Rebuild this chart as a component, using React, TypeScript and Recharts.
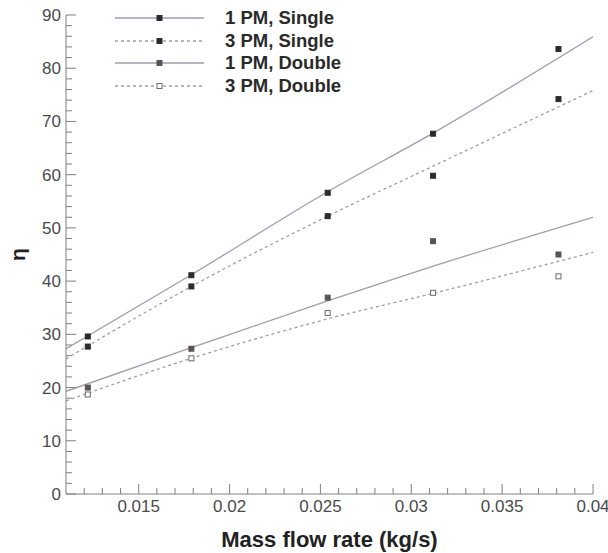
import { ComposedChart, Line, Scatter, XAxis, YAxis, Legend } from "recharts";

// measured points
const flowRates = [0.0122, 0.0179, 0.0254, 0.0312, 0.0381];
const single1pm = [29.6, 41.1, 56.6, 67.7, 83.6];
const single3pm = [27.7, 39.0, 52.2, 59.8, 74.2];
const double1pm = [20.0, 27.3, 36.9, 47.5, 45.0];
const double3pm = [18.7, 25.5, 34.0, 37.8, 40.9];

// fitted curves
const fitRates = [0.011, 0.0179, 0.0254, 0.0312, 0.04];
const fitSingle1pm = [27.3, 41.2, 56.8, 67.8, 85.9];
const fitSingle3pm = [25.4, 39.0, 52.2, 61.6, 75.8];
const fitDouble1pm = [19.3, 27.5, 36.3, 42.8, 52.0];
const fitDouble3pm = [17.5, 25.5, 32.9, 37.7, 45.4];

const xTicks = [0.015, 0.02, 0.025, 0.03, 0.035, 0.04];
const xMinorTicks = [
  0.012, 0.013, 0.014, 0.016, 0.017, 0.018, 0.019, 0.021, 0.022, 0.023, 0.024,
  0.026, 0.027, 0.028, 0.029, 0.031, 0.032, 0.033, 0.034, 0.036, 0.037, 0.038, 0.039,
];
const yTicks = [0, 10, 20, 30, 40, 50, 60, 70, 80, 90];
const yMinorTicks = [
  2, 4, 6, 8, 12, 14, 16, 18, 22, 24, 26, 28, 32, 34, 36, 38, 42, 44, 46, 48,
  52, 54, 56, 58, 62, 64, 66, 68, 72, 74, 76, 78, 82, 84, 86, 88,
];

const seriesNames = ["1 PM, Single", "3 PM, Single", "1 PM, Double", "3 PM, Double"];

const pts = (xs: number[], ys: number[]) => xs.map((x, i) => ({ x, y: ys[i] }));

const FONT = "'Liberation Sans', Arial, Helvetica, sans-serif";
const LINE = "#a49aae";
const AXIS = "#808080";

const series = [
  { name: seriesNames[0], pts: pts(flowRates, single1pm), fit: pts(fitRates, fitSingle1pm), dash: undefined, fill: "#2b2b2b", stroke: "#2b2b2b" },
  { name: seriesNames[1], pts: pts(flowRates, single3pm), fit: pts(fitRates, fitSingle3pm), dash: "3 3", fill: "#2b2b2b", stroke: "#2b2b2b" },
  { name: seriesNames[2], pts: pts(flowRates, double1pm), fit: pts(fitRates, fitDouble1pm), dash: undefined, fill: "#555555", stroke: "#555555" },
  { name: seriesNames[3], pts: pts(flowRates, double3pm), fit: pts(fitRates, fitDouble3pm), dash: "3 3", fill: "#ffffff", stroke: "#6a6a6a" },
];

const allX = [...xTicks, ...xMinorTicks];
const allY = [...yTicks, ...yMinorTicks];

function XTick({ x, y, payload }: any) {
  const major = xTicks.includes(payload.value);
  return (
    <g>
      <line x1={x} x2={x} y1={y} y2={y - (major ? 10 : 6)} stroke={AXIS} />
      {major && (
        <text x={x} y={y + 18} textAnchor="middle" fontSize={17} fill="#4a4a4a" fontFamily={FONT}>
          {payload.value}
        </text>
      )}
    </g>
  );
}

function YTick({ x, y, payload }: any) {
  const major = yTicks.includes(payload.value);
  return (
    <g>
      <line x1={x} x2={x + (major ? 10 : 6)} y1={y} y2={y} stroke={AXIS} />
      {major && (
        <text x={x - 5} y={y + 6} textAnchor="end" fontSize={17} fill="#4a4a4a" fontFamily={FONT}>
          {payload.value}
        </text>
      )}
    </g>
  );
}

function Marker({ cx, cy, fill, stroke }: any) {
  if (cx == null || cy == null) return null;
  return <rect x={cx - 2.5} y={cy - 2.5} width={5} height={5} fill={fill} stroke={stroke} strokeWidth={1} />;
}

function LegendBox() {
  return (
    <div style={{ fontFamily: FONT }}>
      {series.map((s) => (
        <div key={s.name} style={{ display: "flex", alignItems: "center", height: 22.5 }}>
          <svg width={89} height={22} style={{ display: "block" }}>
            <line x1={0} x2={89} y1={11} y2={11} stroke={LINE} strokeWidth={1.3} strokeDasharray={s.dash} />
            <rect x={42} y={8.5} width={5} height={5} fill={s.fill} stroke={s.stroke} />
          </svg>
          <span style={{ marginLeft: 21, fontSize: 18.5, fontWeight: "bold", color: "#2a2a2a", whiteSpace: "nowrap" }}>
            {s.name}
          </span>
        </div>
      ))}
    </div>
  );
}

export default function App() {
  return (
    <div>
      <style>{`body{margin:0}`}</style>
      <ComposedChart width={608} height={553} margin={{ top: 15, right: 15, bottom: 0, left: 6 }}>
        <XAxis
          type="number"
          dataKey="x"
          domain={[0.011, 0.04]}
          allowDataOverflow
          ticks={allX}
          interval={0}
          tickSize={0}
          tickMargin={0}
          tickLine={false}
          tick={<XTick />}
          height={59}
          stroke={AXIS}
          label={{
            value: "Mass flow rate (kg/s)",
            position: "insideBottom",
            offset: 6,
            fontSize: 22,
            fontWeight: "bold",
            fill: "#222",
            fontFamily: FONT,
          }}
        />
        <YAxis
          type="number"
          dataKey="y"
          domain={[0, 90]}
          allowDataOverflow
          ticks={allY}
          interval={0}
          tickSize={0}
          tickMargin={0}
          tickLine={false}
          tick={<YTick />}
          width={60}
          stroke={AXIS}
          label={{
            value: "η",
            position: "center",
            angle: -90,
            dx: -18,
            fontSize: 21,
            fontWeight: "bold",
            fill: "#222",
            fontFamily: FONT,
          }}
        />
        <Legend
          layout="horizontal"
          align="center"
          verticalAlign="middle"
          content={<LegendBox />}
          wrapperStyle={{ position: "absolute", left: 115, top: 7, width: 300, height: 92 }}
        />
        {series.map((s) => (
          <Line
            key={"fit-" + s.name}
            data={s.fit}
            dataKey="y"
            type="monotone"
            stroke={LINE}
            strokeWidth={1.3}
            strokeDasharray={s.dash}
            dot={false}
            activeDot={false}
            legendType="none"
            isAnimationActive={false}
          />
        ))}
        {series.map((s) => (
          <Scatter
            key={"pts-" + s.name}
            name={s.name}
            data={s.pts}
            dataKey="y"
            shape={<Marker fill={s.fill} stroke={s.stroke} />}
            isAnimationActive={false}
          />
        ))}
      </ComposedChart>
    </div>
  );
}
